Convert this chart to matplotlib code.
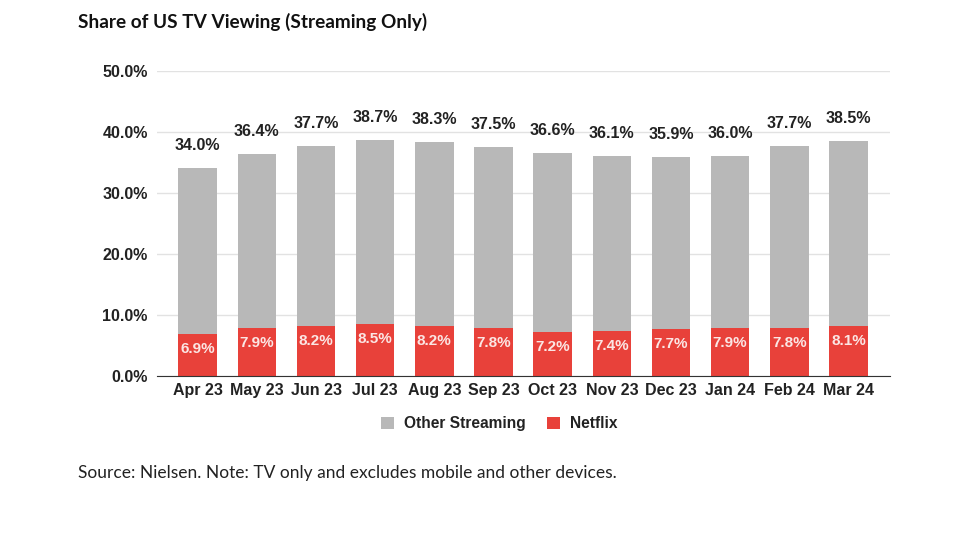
import matplotlib.pyplot as plt
import numpy as np

months = ["Apr 23", "May 23", "Jun 23", "Jul 23", "Aug 23", "Sep 23",
          "Oct 23", "Nov 23", "Dec 23", "Jan 24", "Feb 24", "Mar 24"]
total = [34.0, 36.4, 37.7, 38.7, 38.3, 37.5, 36.6, 36.1, 35.9, 36.0, 37.7, 38.5]
netflix = [6.9, 7.9, 8.2, 8.5, 8.2, 7.8, 7.2, 7.4, 7.7, 7.9, 7.8, 8.1]

other = [t - n for t, n in zip(total, netflix)]

GRAY = "#b8b8b8"
RED = "#e8413a"

plt.rcParams['font.family'] = ['Liberation Sans', 'DejaVu Sans']

fig = plt.figure(figsize=(9.6, 5.33), dpi=100)
ax = fig.add_axes([0.164, 0.295, 0.763, 0.572])

x = np.arange(len(months))
w = 0.65
ax.bar(x, netflix, w, color=RED, label="Netflix", zorder=3)
ax.bar(x, other, w, bottom=netflix, color=GRAY, label="Other Streaming", zorder=3)

for i in range(len(months)):
    ax.text(x[i], netflix[i] - 2.45, f"{netflix[i]:.1f}%", ha="center", va="center",
            color="#fbe6e4", fontsize=11, fontweight="bold", zorder=4)
    ax.text(x[i], total[i] + 3.7, f"{total[i]:.1f}%", ha="center", va="center",
            color="#222222", fontsize=11.5, fontweight="bold", zorder=4)

ax.set_ylim(0, 50)
ax.set_xlim(-0.68, 11.7)
ax.set_yticks([0, 10, 20, 30, 40, 50])
ax.set_yticklabels([f"{v:.1f}%" for v in [0, 10, 20, 30, 40, 50]])
ax.set_xticks(x)
ax.set_xticklabels(months)
ax.tick_params(axis="both", length=0, labelsize=11.5, colors="#222222")
for lbl in ax.get_xticklabels() + ax.get_yticklabels():
    lbl.set_fontweight("bold")
ax.tick_params(axis="y", pad=7)
ax.tick_params(axis="x", pad=5)
ax.grid(axis="y", color="#e2e2e2", linewidth=1, zorder=0)
for s in ["top", "right", "left"]:
    ax.spines[s].set_visible(False)
ax.spines["bottom"].set_color("#333333")
ax.spines["bottom"].set_zorder(5)

handles, labels = ax.get_legend_handles_labels()
leg = fig.legend(handles[::-1], labels[::-1], loc="center", bbox_to_anchor=(0.52, 0.205),
                 ncol=2, frameon=False, handlelength=0.85, handleheight=0.85,
                 columnspacing=1.4, handletextpad=0.6,
                 prop={"weight": "bold", "size": 11.2})
for t in leg.get_texts():
    t.set_color("#222222")

fig.text(0.081, 0.958, "Share of US TV Viewing (Streaming Only)", fontsize=13.7,
         fontweight="bold", family=["Lato", "DejaVu Sans"], va="center", color="#111111")
fig.text(0.081, 0.112, "Source: Nielsen. Note: TV only and excludes mobile and other devices.",
         fontsize=12.5, family=["Lato", "DejaVu Sans"], va="center", color="#222222")

fig.savefig("out.png", dpi=100)
